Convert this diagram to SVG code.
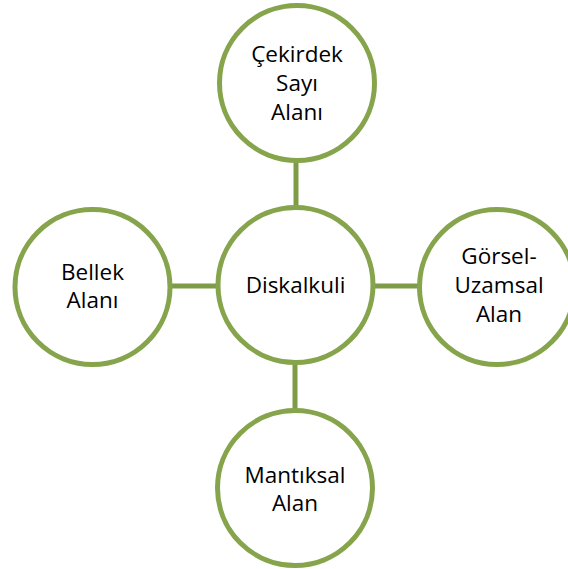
<svg xmlns="http://www.w3.org/2000/svg" width="568" height="569" viewBox="0 0 568 569">
<style>
.node circle{fill:#fff;stroke:#86A44C;stroke-width:5}
.node text{font-family:"Open Sans","Liberation Sans",sans-serif;font-size:22.5px;fill:#000;text-anchor:middle}
#connectors line{stroke:#7E9B46;stroke-width:5}
</style>
<rect width="568" height="569" fill="#fff"/>
<g id="connectors">
<line x1="296" y1="160" x2="296" y2="208"/>
<line x1="295" y1="362" x2="295" y2="412"/>
<line x1="170" y1="286" x2="218" y2="286"/>
<line x1="373" y1="286" x2="420" y2="286"/>
</g>
<g id="n-center" class="node"><circle cx="295.5" cy="285" r="77.5"/><text x="295.5" y="293">Diskalkuli</text></g>
<g id="n-top" class="node"><circle cx="297" cy="83" r="77.5"/><text x="297" y="62">Çekirdek</text><text x="297" y="91">Sayı</text><text x="297" y="120">Alanı</text></g>
<g id="n-left" class="node"><circle cx="92.5" cy="287" r="77.5"/><text x="92.5" y="280">Bellek</text><text x="92.5" y="308">Alanı</text></g>
<g id="n-right" class="node"><circle cx="497" cy="287" r="77.5"/><text x="499" y="264">Görsel-</text><text x="499" y="293">Uzamsal</text><text x="499" y="322">Alan</text></g>
<g id="n-bottom" class="node"><circle cx="295" cy="488" r="77.5"/><text x="295" y="483">Mantıksal</text><text x="295" y="511">Alan</text></g>
</svg>
